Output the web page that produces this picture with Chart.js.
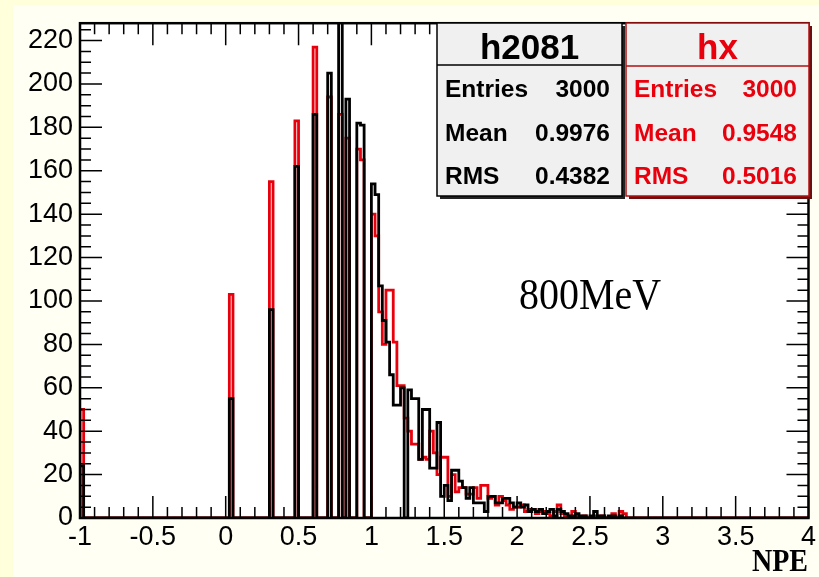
<!DOCTYPE html>
<html>
<head>
<meta charset="utf-8">
<script src="https://cdn.jsdelivr.net/npm/chart.js@4.4.0/dist/chart.umd.min.js"></script>
<style>
  html, body { margin: 0; padding: 0; background: #ffffdc; }
  #wrap { width: 819px; height: 577px; }
</style>
</head>
<body>
<div id="wrap"><canvas id="npe" width="819" height="577"></canvas></div>
<script>
// histogram binning
const xMin = -1, xMax = 4, binWidth = 0.025;
const yMax = 228;
const xMinorStep = 0.1, xMajorEvery = 5;
const yMinorStep = 5, yMajorEvery = 4;

// h2081 (black): filled bin centres and contents
const blackCentres = [-0.9875, 0.0375, 0.3125, 0.4875, 0.6125, 0.7125, 0.7875, 0.8375, 0.9125, 0.9375,
  1.0125, 1.0375, 1.0625, 1.0875, 1.1125, 1.1375, 1.1625, 1.1875, 1.2125, 1.2625, 1.2875, 1.3125,
  1.3375, 1.3625, 1.3875, 1.4125, 1.4375, 1.4625, 1.4875, 1.5125, 1.5375, 1.5625, 1.5875, 1.6125,
  1.6375, 1.6625, 1.6875, 1.7125, 1.7375, 1.7625, 1.7875, 1.8125, 1.8375, 1.8625, 1.8875, 1.9125,
  1.9375, 1.9625, 1.9875, 2.0125, 2.0375, 2.0625, 2.0875, 2.1125, 2.1375, 2.1625, 2.1875, 2.2125,
  2.2375, 2.2625, 2.2875, 2.3125, 2.3375, 2.3625, 2.3875, 2.4125, 2.4375, 2.4625, 2.5125, 2.5375,
  2.5625, 2.5875, 2.6375, 2.6625, 2.7125];
const blackCounts = [24, 55, 96, 162, 186, 205, 240, 193, 182, 181,
  154, 149, 107, 91, 81, 66, 52, 52, 60, 59, 55, 55,
  27, 50, 50, 23, 23, 44, 10, 15, 8, 22, 22, 17,
  14, 9, 14, 7, 7, 7, 3, 10, 10, 7, 7, 9,
  9, 7, 5, 7, 5, 6, 3, 4, 3, 4, 2, 3,
  4, 1, 4, 3, 2, 1, 1, 2, 1, 1, 1, 3,
  1, 1, 1, 1, 1];

// hx (red): filled bin centres and contents
const redCentres = [-0.9875, 0.0375, 0.3125, 0.4875, 0.6125, 0.7125, 0.7875, 0.8375, 0.9125, 0.9375,
  1.0125, 1.0375, 1.0625, 1.0875, 1.1125, 1.1375, 1.1625, 1.1875, 1.2125, 1.2375, 1.2625, 1.2875,
  1.3125, 1.3375, 1.3625, 1.3875, 1.4125, 1.4375, 1.4625, 1.4875, 1.5125, 1.5375, 1.5625, 1.5875,
  1.6125, 1.6375, 1.6625, 1.6875, 1.7125, 1.7375, 1.7625, 1.7875, 1.8125, 1.8375, 1.8625, 1.8875,
  1.9125, 1.9375, 1.9625, 1.9875, 2.0125, 2.0375, 2.0625, 2.0875, 2.1125, 2.1375, 2.1625, 2.1875,
  2.2125, 2.2375, 2.2625, 2.2875, 2.3125, 2.3375, 2.3875, 2.4125, 2.4625, 2.5375, 2.5875, 2.6625,
  2.7125, 2.7375];
const redCounts = [50, 103, 155, 183, 217, 194, 186, 175, 170, 165,
  140, 130, 95, 80, 105, 105, 81, 61, 61, 46, 40, 34,
  34, 27, 28, 27, 40, 30, 20, 28, 28, 10, 20, 12,
  14, 14, 11, 11, 14, 9, 15, 15, 9, 10, 6, 10,
  8, 6, 4, 5, 5, 6, 3, 4, 4, 2, 3, 3,
  2, 1, 3, 6, 2, 1, 3, 1, 1, 1, 1, 2,
  3, 2];

// stat box contents
const statNames = ['Entries', 'Mean', 'RMS'];
const blackStats = ['3000', '0.9976', '0.4382'];
const redStats = ['3000', '0.9548', '0.5016'];

const RED = '#e8000c';

// turn sparse bin contents into an outline (ROOT "HIST" style)
function histPoints(centres, counts) {
  const nBins = Math.round((xMax - xMin) / binWidth);
  const content = new Array(nBins).fill(0);
  centres.forEach((c, i) => {
    const k = Math.floor((c - xMin) / binWidth);
    content[k] = counts[i];
  });
  const pts = [{ x: xMin, y: 0 }];
  content.forEach((n, k) => {
    const lo = xMin + k * binWidth;
    pts.push({ x: lo, y: n }, { x: lo + binWidth, y: n });
  });
  pts.push({ x: xMax, y: 0 });
  return pts;
}

function drawStatBox(ctx, box, title, values, color, border, shadow) {
  ctx.save();
  ctx.fillStyle = shadow;
  ctx.fillRect(box.x + 3, box.y + 3, box.w, box.h);
  ctx.fillStyle = '#f0f0f0';
  ctx.fillRect(box.x, box.y, box.w, box.h);
  ctx.strokeStyle = border;
  ctx.lineWidth = 1.5;
  ctx.strokeRect(box.x, box.y, box.w, box.h);
  ctx.beginPath();
  ctx.moveTo(box.x, box.sep);
  ctx.lineTo(box.x + box.w, box.sep);
  ctx.stroke();

  ctx.fillStyle = color;
  ctx.font = 'bold 35px "Liberation Sans", Arial, sans-serif';
  ctx.textAlign = 'center';
  ctx.textBaseline = 'alphabetic';
  ctx.fillText(title, box.x + box.w / 2, box.y + 36);

  ctx.font = 'bold 24.5px "Liberation Sans", Arial, sans-serif';
  statNames.forEach((name, i) => {
    const yb = box.y + 74 + i * 43.5;
    ctx.textAlign = 'left';
    ctx.fillText(name, box.x + 8, yb);
    ctx.textAlign = 'right';
    ctx.fillText(values[i], box.x + box.w - 12, yb);
  });
  ctx.restore();
}

const rootFrame = {
  id: 'rootFrame',
  beforeDraw(chart) {
    const ctx = chart.ctx;
    const a = chart.chartArea;
    ctx.save();
    ctx.fillStyle = '#ffffdc';
    ctx.fillRect(0, 0, chart.width, chart.height);
    ctx.fillStyle = '#fffff4';
    ctx.fillRect(13, 5, chart.width - 13, chart.height - 5);
    ctx.fillStyle = '#ffffff';
    ctx.fillRect(a.left, a.top, a.right - a.left, a.bottom - a.top);
    ctx.restore();
  },
  afterDraw(chart) {
    const ctx = chart.ctx;
    const a = chart.chartArea;
    const xs = chart.scales.x, ys = chart.scales.y;
    ctx.save();
    ctx.strokeStyle = '#000';
    ctx.lineWidth = 1.5;

    // x ticks, bottom and top, pointing inwards
    const nx = Math.round((xMax - xMin) / xMinorStep);
    for (let i = 0; i <= nx; i++) {
      const px = xs.getPixelForValue(xMin + i * xMinorStep);
      const len = i % xMajorEvery === 0 ? 22 : 11;
      ctx.beginPath();
      ctx.moveTo(px, a.bottom); ctx.lineTo(px, a.bottom - len);
      ctx.moveTo(px, a.top); ctx.lineTo(px, a.top + len);
      ctx.stroke();
    }
    // y ticks, left and right
    const ny = Math.floor(yMax / yMinorStep);
    for (let i = 0; i <= ny; i++) {
      const py = ys.getPixelForValue(i * yMinorStep);
      const len = i % yMajorEvery === 0 ? 22 : 11;
      ctx.beginPath();
      ctx.moveTo(a.left, py); ctx.lineTo(a.left + len, py);
      ctx.moveTo(a.right, py); ctx.lineTo(a.right - len, py);
      ctx.stroke();
    }

    // frame
    ctx.lineWidth = 2.5;
    ctx.strokeRect(a.left, a.top, a.right - a.left, a.bottom - a.top);
    ctx.restore();

    // stat boxes
    drawStatBox(ctx, { x: 437, y: 23, w: 185, h: 173, sep: 65 }, 'h2081', blackStats, '#000', '#000', '#222');
    drawStatBox(ctx, { x: 626, y: 23, w: 183, h: 173, sep: 66 }, 'hx', redStats, RED, '#b01010', '#6a1010');

    // energy label
    ctx.save();
    ctx.fillStyle = '#000';
    ctx.font = '44px "Liberation Serif", "Times New Roman", serif';
    const label = '800MeV';
    const w = ctx.measureText(label).width;
    ctx.translate(519, 309);
    ctx.scale(142 / w, 1);
    ctx.textBaseline = 'alphabetic';
    ctx.fillText(label, 0, 0);
    ctx.restore();

    // axis title
    ctx.save();
    ctx.fillStyle = '#000';
    ctx.font = 'bold 31px "Liberation Serif", "Times New Roman", serif';
    const t = 'NPE';
    const tw = ctx.measureText(t).width;
    ctx.translate(752, 571);
    ctx.scale(56 / tw, 1);
    ctx.fillText(t, 0, 0);
    ctx.restore();
  }
};

const tickFont = { family: '"Liberation Sans", Arial, sans-serif', size: 27 };

new Chart(document.getElementById('npe').getContext('2d'), {
  type: 'line',
  data: {
    datasets: [
      {
        label: 'h2081',
        data: histPoints(blackCentres, blackCounts),
        borderColor: '#000',
        borderWidth: 2.8,
        order: 0
      },
      {
        label: 'hx',
        data: histPoints(redCentres, redCounts),
        borderColor: RED,
        borderWidth: 2.8,
        order: 1
      }
    ]
  },
  options: {
    responsive: false,
    animation: false,
    devicePixelRatio: 1,
    elements: {
      point: { radius: 0 },
      line: { tension: 0, fill: false, borderJoinStyle: 'miter', borderCapStyle: 'butt' }
    },
    layout: { padding: { top: 22, right: 7, left: 0, bottom: 0 } },
    plugins: { legend: { display: false }, tooltip: { enabled: false } },
    scales: {
      x: {
        type: 'linear',
        min: xMin,
        max: xMax,
        grid: { display: false, drawTicks: false },
        border: { display: false },
        ticks: {
          stepSize: 0.5,
          font: tickFont,
          color: '#000',
          padding: 3,
          maxRotation: 0,
          autoSkip: false,
          callback: v => String(Math.round(v * 10) / 10)
        },
        afterFit: s => { s.height = 59; }
      },
      y: {
        min: 0,
        max: yMax,
        grid: { display: false, drawTicks: false },
        border: { display: false },
        ticks: {
          stepSize: 20,
          includeBounds: false,
          font: tickFont,
          color: '#000',
          padding: 7
        },
        afterFit: s => { s.width = 80; }
      }
    }
  },
  plugins: [rootFrame]
});
</script>
</body>
</html>
